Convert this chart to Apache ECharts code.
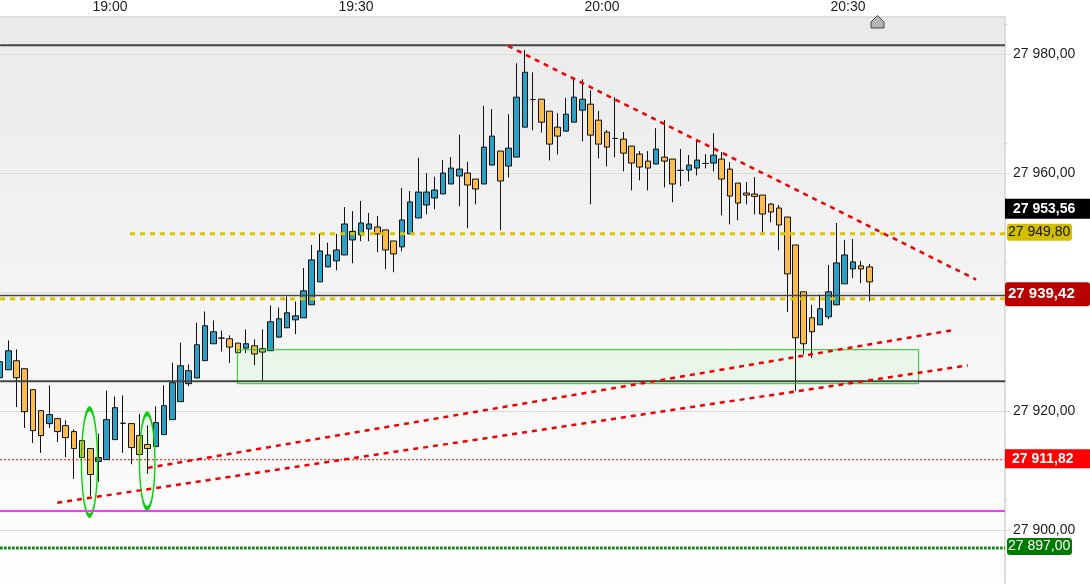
<!DOCTYPE html>
<html>
<head>
<meta charset="utf-8">
<style>html,body{margin:0;padding:0;background:#fff}#chart{width:1090px;height:584px}</style>
<script src="https://cdn.jsdelivr.net/npm/echarts@6/dist/echarts.min.js"></script>
</head>
<body>
<div id="chart"></div>
<script>
const minutes=[1127,1128,1129,1130,1131,1132,1133,1134,1135,1136,1137,1138,1139,1140,1141,1142,1143,1144,1145,1146,1147,1148,1149,1150,1151,1152,1153,1154,1155,1156,1157,1158,1159,1160,1161,1162,1163,1164,1165,1166,1167,1168,1169,1170,1171,1172,1173,1174,1175,1176,1177,1178,1179,1180,1181,1182,1183,1184,1185,1186,1187,1188,1189,1190,1191,1192,1193,1194,1195,1196,1197,1198,1199,1200,1201,1202,1203,1204,1205,1206,1207,1208,1209,1210,1211,1212,1213,1214,1215,1216,1217,1218,1219,1220,1221,1222,1223,1224,1225,1226,1227,1228,1229,1230,1231,1232,1233];
const opens=[27925.60,27926.94,27928.45,27927.11,27923.59,27920.07,27917.89,27918.73,27917.55,27916.55,27915.04,27913.70,27911.52,27911.85,27915.20,27917.94,27917.89,27915.88,27914.37,27914.03,27916.04,27918.56,27921.58,27924.60,27925.55,27928.46,27931.31,27932.26,27932.15,27931.42,27930.58,27930.97,27930.47,27930.14,27932.43,27933.99,27935.33,27935.67,27937.85,27941.71,27944.22,27945.23,27946.23,27948.75,27949.59,27950.59,27950.93,27950.43,27948.58,27947.58,27949.76,27952.44,27954.62,27955.80,27956.47,27958.15,27959.49,27959.99,27958.98,27958.15,27961.33,27963.68,27961.16,27962.67,27967.70,27972.34,27972.40,27970.39,27967.70,27967.03,27968.54,27970.56,27971.56,27968.88,27966.87,27965.80,27965.69,27964.52,27963.18,27962.00,27961.50,27962.67,27962.34,27960.44,27960.49,27960.83,27961.60,27961.66,27962.33,27960.65,27958.31,27956.63,27956.46,27956.29,27954.78,27954.11,27952.60,27947.91,27940.03,27935.67,27934.49,27935.83,27937.85,27941.37,27943.88,27944.39,27944.22];
const closes=[27928.29,27930.13,27925.60,27919.90,27916.71,27915.88,27919.40,27916.55,27915.54,27913.70,27912.19,27909.34,27912.19,27918.56,27920.57,27917.94,27913.86,27912.69,27913.70,27918.06,27920.91,27924.76,27927.61,27926.78,27931.14,27934.33,27933.32,27932.26,27930.75,27929.80,27931.31,27929.58,27929.91,27935.00,27935.50,27936.51,27936.00,27940.20,27945.40,27946.91,27946.23,27947.07,27951.43,27950.20,27951.60,27951.43,27949.76,27947.07,27946.40,27952.11,27955.13,27956.80,27956.80,27957.14,27959.99,27960.83,27960.66,27957.98,27957.31,27964.35,27966.20,27958.65,27964.18,27972.74,27976.93,27972.34,27968.54,27964.85,27966.20,27969.88,27972.74,27972.40,27966.36,27964.85,27964.35,27965.80,27963.34,27961.67,27961.00,27960.83,27964.02,27962.00,27958.15,27960.44,27961.33,27962.17,27961.60,27963.00,27958.98,27956.13,27954.95,27956.29,27956.07,27953.11,27953.44,27951.26,27943.05,27932.31,27931.31,27933.32,27937.18,27940.03,27944.89,27946.23,27945.06,27943.88,27941.70];
const lows=[27925.00,27926.94,27920.68,27917.16,27914.65,27912.97,27917.16,27914.81,27912.24,27908.61,27910.40,27905.76,27908.11,27911.85,27915.20,27912.97,27911.07,27912.69,27909.45,27914.03,27916.04,27918.56,27921.58,27924.20,27925.55,27928.46,27931.31,27930.02,27928.07,27929.80,27929.74,27927.68,27924.88,27930.14,27932.26,27933.99,27932.93,27935.67,27937.85,27941.71,27944.22,27943.66,27946.23,27944.84,27948.53,27948.53,27946.68,27943.83,27943.33,27946.85,27949.76,27952.44,27953.06,27953.90,27956.47,27958.15,27954.40,27950.71,27954.74,27958.15,27961.33,27950.38,27959.26,27962.67,27967.70,27967.15,27966.81,27962.11,27963.12,27967.03,27968.54,27965.30,27954.74,27962.45,27961.11,27962.62,27960.27,27957.08,27958.76,27957.08,27961.50,27957.59,27955.07,27957.75,27958.59,27959.60,27960.77,27960.26,27952.88,27951.37,27952.05,27954.73,27953.05,27949.92,27951.71,27947.01,27936.62,27923.37,27929.52,27928.90,27934.49,27935.44,27937.85,27941.37,27942.32,27941.48,27938.46];
const highs=[27928.80,27931.86,27930.35,27927.11,27923.59,27920.07,27924.32,27918.73,27918.45,27916.94,27915.04,27913.70,27916.21,27923.42,27922.47,27922.64,27917.89,27919.56,27917.61,27920.79,27924.32,27928.12,27931.47,27927.84,27934.83,27936.73,27935.22,27933.54,27932.71,27931.42,27933.71,27932.04,27933.71,27937.74,27937.40,27939.25,27938.41,27944.05,27947.91,27949.81,27948.30,27949.76,27954.28,27953.61,27955.29,27953.28,27952.77,27950.43,27948.58,27957.48,27956.97,27962.56,27959.99,27959.38,27962.17,27962.67,27966.42,27961.89,27958.98,27971.28,27970.72,27963.68,27969.88,27978.44,27980.67,27976.93,27972.40,27970.39,27970.05,27972.62,27976.03,27975.75,27973.91,27970.44,27967.20,27972.74,27966.87,27964.52,27963.68,27963.68,27967.54,27968.88,27962.34,27964.02,27963.01,27965.36,27963.17,27966.69,27963.51,27961.83,27958.31,27958.47,27959.31,27956.29,27954.95,27954.62,27952.60,27947.91,27940.03,27937.85,27939.58,27944.56,27951.60,27948.75,27948.92,27945.23,27944.72];

const timeTicks=[1140,1170,1200,1230];
const priceTicks=[27900,27920,27940,27960,27980];
const minorPriceTicks=[27905,27925,27945,27965,27985];

const levelNames=['top','support','last','yellowHigh','yellowLow','redDotted','magenta','greenDotted'];
const levelValues=[27981.45,27925.00,27939.42,27949.80,27938.85,27911.82,27903.19,27897.00];
const levelStart=[1126.6,1126.6,1126.6,1142.44,1126.6,1126.6,1126.6,1126.6];

const trendStartX=[1188.54,1144.60,1133.57];
const trendStartY=[27981.34,27910.45,27904.58];
const trendEndX=[1245.61,1242.56,1244.63];
const trendEndY=[27942.10,27933.54,27927.67];

const zoneLeft=[1155.53],zoneRight=[1238.62],zoneTop=[27930.31],zoneBottom=[27924.60];
const ovalLeft=[1136.43,1143.50],ovalRight=[1138.57,1145.57],ovalTop=[27920.80,27919.96],ovalBottom=[27902.01,27903.19];

const tagValues=[27953.56,27949.80,27939.42,27911.82,27897.00];

const xMin=1126.585,xMax=1249.146,yMin=27890.94,yMax=27986.21;
const barShift=0.4;
const fmtPrice=v=>{const s=v.toFixed(2).replace('.',',');return s.slice(0,2)+' '+s.slice(2);};
const fmtTime=m=>Math.floor(m/60)+':'+String(m%60).padStart(2,'0');
const TXT='#1c1c1c';

const levelStyles={
 top:{color:'#444',width:2,type:'solid'},
 support:{color:'#444',width:2,type:'solid'},
 last:{color:'#444',width:1.5,type:'solid'},
 yellowHigh:{color:'#DCC400',width:3,type:[5,5]},
 yellowLow:{color:'#DCC400',width:3,type:[5,5]},
 redDotted:{color:'#E00000',width:1,type:[2,2]},
 magenta:{color:'#FF33FF',width:2,type:'solid'},
 greenDotted:{color:'#008000',width:3,type:[2.5,1.5]}
};
const levelSeries=levelNames.map((n,i)=>({
 type:'line',name:n,silent:true,animation:false,symbol:'none',z:8,
 lineStyle:levelStyles[n],
 data:[[levelStart[i],levelValues[i]],[xMax,levelValues[i]]]
}));
const trendSeries=trendStartX.map((_,i)=>({
 type:'line',silent:true,animation:false,symbol:'none',z:9,
 lineStyle:{color:'#F00000',width:2.5,type:[5,5]},
 data:[[trendStartX[i],trendStartY[i]],[trendEndX[i],trendEndY[i]]]
}));

const tagStyles=[
 {bg:'#000',fg:'#fff',w:85,h:20,left:0,pad:8,bold:true,size:14,dy:-2.6,r:0},
 {bg:'#D4BE00',fg:'#111',w:65,h:17,left:2,pad:1,bold:false,size:14,dy:-1.5,r:3},
 {bg:'#B80000',fg:'#fff',w:85,h:24,left:0,pad:3,bold:true,size:15,dy:-1.3,r:3},
 {bg:'#FF0000',fg:'#fff',w:85,h:19,left:0,pad:7,bold:true,size:14,dy:-0.9,r:0},
 {bg:'#007A00',fg:'#fff',w:65,h:17,left:2,pad:1,bold:false,size:14,dy:-1.4,r:3}
];
const tagData=tagValues.map((v,i)=>{const s=tagStyles[i];return{
 coord:[xMax-0.001,v],symbol:'rect',symbolSize:0,
 label:{show:true,position:'right',distance:0,offset:[s.left,s.dy],formatter:fmtPrice(v),
  color:s.fg,fontFamily:'Liberation Sans',fontSize:s.size,fontWeight:s.bold?'bold':'normal',
  backgroundColor:s.bg,borderRadius:s.r,width:s.w-s.pad,height:s.h,lineHeight:s.h,padding:[0,0,0,s.pad],align:'left',verticalAlign:'middle'}
};});

const chart=echarts.init(document.getElementById('chart'),null,{renderer:'canvas'});
chart.setOption({
 animation:false,
 backgroundColor:'#fff',
 grid:{left:0,top:16,width:1005,height:568,show:true,borderWidth:0,
  backgroundColor:new echarts.graphic.LinearGradient(0,0,0,1,[{offset:0,color:'#EAEAEA'},{offset:1,color:'#FEFEFE'}])},
 xAxis:{type:'value',position:'top',min:xMin,max:xMax,
  axisLine:{show:true,onZero:false,lineStyle:{color:'#DDD',width:2}},
  axisTick:{show:false},splitLine:{show:false},
  axisLabel:{customValues:timeTicks,formatter:fmtTime,color:TXT,fontFamily:'Liberation Sans',fontSize:14,margin:3}},
 yAxis:[
  {type:'value',position:'right',min:yMin,max:yMax,
   axisLine:{show:true,onZero:false,lineStyle:{color:'#DDD',width:2}},
   axisTick:{show:true,customValues:priceTicks,length:5,lineStyle:{color:'#DDD'}},
   splitLine:{show:true,lineStyle:{color:'#DDD',width:1}},
   axisLabel:{customValues:priceTicks,formatter:fmtPrice,color:TXT,fontFamily:'Liberation Sans',fontSize:14,margin:8}},
  {type:'value',position:'right',min:yMin,max:yMax,
   axisLine:{show:false},splitLine:{show:false},axisLabel:{show:false},
   axisTick:{show:true,customValues:minorPriceTicks,length:2,lineStyle:{color:'#CCC'}}}
 ],
 graphic:[{type:'polygon',z:50,shape:{points:[[877.5,15.5],[884,22],[884,28],[871,28],[871,22]]},style:{fill:'#B4B4B4',stroke:'#444',lineWidth:1}}],
 series:[
  {type:'custom',silent:true,z:6,animation:false,
   data:zoneLeft.map((v,i)=>[v,zoneRight[i],zoneTop[i],zoneBottom[i]]),
   encode:{x:[0,1],y:[2,3]},
   renderItem:(p,api)=>{const a=api.coord([api.value(0),api.value(2)]),b=api.coord([api.value(1),api.value(3)]);
    return{type:'rect',shape:{x:a[0],y:a[1],width:b[0]-a[0],height:b[1]-a[1]},style:{fill:'rgba(20,226,20,0.05)',stroke:'#22C422',lineWidth:1}};}},
  {type:'candlestick',z:5,animation:false,barWidth:6,silent:true,
   data:minutes.map((m,i)=>[m-barShift,opens[i],closes[i],lows[i],highs[i]]),
   encode:{x:0,y:[1,2,3,4]},
   itemStyle:{color:'#2E9FC4',color0:'#F8BC4F',borderColor:'#111',borderColor0:'#111',borderColorDoji:'#111',borderWidth:1}},
  {type:'custom',silent:true,z:7,animation:false,
   data:ovalLeft.map((v,i)=>[v,ovalRight[i],ovalTop[i],ovalBottom[i]]),
   encode:{x:[0,1],y:[2,3]},
   renderItem:(p,api)=>{const a=api.coord([api.value(0),api.value(2)]),b=api.coord([api.value(1),api.value(3)]);
    const cx=(a[0]+b[0])/2,cy=(a[1]+b[1])/2,rx=(b[0]-a[0])/2,ry=(b[1]-a[1])/2,ix=rx-1.4,iy=ry-5;
    const d='M'+(cx-rx)+' '+cy+'A'+rx+' '+ry+' 0 1 1 '+(cx+rx)+' '+cy+'A'+rx+' '+ry+' 0 1 1 '+(cx-rx)+' '+cy+'Z'+
     'M'+(cx-ix)+' '+cy+'A'+ix+' '+iy+' 0 1 0 '+(cx+ix)+' '+cy+'A'+ix+' '+iy+' 0 1 0 '+(cx-ix)+' '+cy+'Z';
    return{type:'group',children:[
     {type:'ellipse',shape:{cx,cy,rx:ix,ry:iy},style:{fill:'rgba(20,226,20,0.05)'}},
     {type:'path',shape:{pathData:d,x:cx-rx,y:cy-ry,width:2*rx,height:2*ry},style:{fill:'#10CC10'}}
    ]};}},
  ...levelSeries,
  ...trendSeries,
  {type:'line',silent:true,animation:false,symbol:'none',data:[],z:20,
   markPoint:{silent:true,animation:false,data:tagData}}
 ]
});
</script>
</body>
</html>
